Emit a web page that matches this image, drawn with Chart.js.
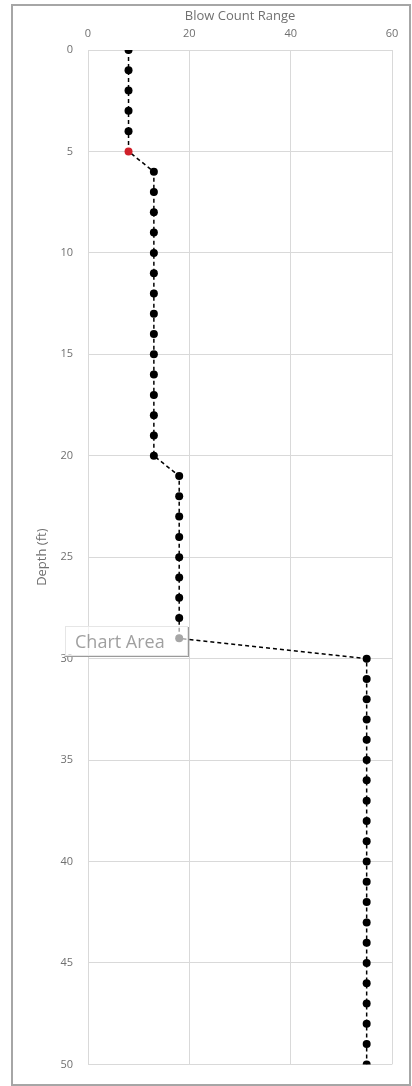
<!DOCTYPE html>
<html>
<head>
<meta charset="utf-8">
<script src="https://cdn.jsdelivr.net/npm/chart.js@4"></script>
<style>
  html, body { margin: 0; padding: 0; background: #fff; }
  #wrap { position: relative; width: 412px; height: 1086px; overflow: hidden; }
  #frame {
    position: absolute; left: 11px; top: 4px; width: 396px; height: 1078px;
    border: 2px solid #a6a6a6; pointer-events: none;
  }
  #chartArea {
    position: absolute; left: 65px; top: 626px; width: 123px; height: 30px;
    background: rgba(255,255,255,0.65);
    border: 1px solid #e6e6e6;
    box-shadow: 1px 1px 0 #9a9a9a;
    font-family: "Open Sans", sans-serif; font-size: 18px; color: #a0a0a0;
    line-height: 28px; padding-left: 9px; box-sizing: border-box;
  }
</style>
</head>
<body>
<div id="wrap">
  <canvas id="BLOWS" width="412" height="1086"></canvas>
  <div id="frame"></div>
  <div id="chartArea">Chart Area</div>
</div>
<script>
// Datos: profundidad (ft) y golpes
const DEPTHS = [0,1,2,3,4,5,6,7,8,9,10,11,12,13,14,15,16,17,18,19,20,
  21,22,23,24,25,26,27,28,29,30,31,32,33,34,35,36,37,38,39,40,
  41,42,43,44,45,46,47,48,49,50];
const BLOWS = [8,8,8,8,8,8,13,13,13,13,13,13,13,13,13,13,13,13,13,13,13,
  18,18,18,18,18,18,18,18,18,55,55,55,55,55,55,55,55,55,55,55,
  55,55,55,55,55,55,55,55,55,55];
const X_TICKS = [0, 20, 40, 60];
const Y_TICKS = [0, 5, 10, 15, 20, 25, 30, 35, 40, 45, 50];
const RED_DEPTH = 5;

const POINTS = DEPTHS.map((d, i) => ({ x: BLOWS[i], y: d }));
const POINT_COLORS = DEPTHS.map(d => d === RED_DEPTH ? '#d0202a' : '#000');

const TEXT = '#707070';
const GRID = '#d9d9d9';

const ctx = document.getElementById('BLOWS');

new Chart(ctx, {
  type: 'scatter',
  data: {
    datasets: [{
      data: POINTS,
      showLine: true,
      borderColor: '#000',
      borderWidth: 1.5,
      borderDash: [4, 3],
      pointRadius: 4,
      pointBorderWidth: 0,
      pointBackgroundColor: POINT_COLORS,
      pointBorderColor: POINT_COLORS
    }]
  },
  options: {
    responsive: false,
    animation: false,
    layout: { padding: { left: 0, top: 0, right: 20, bottom: 20 } },
    plugins: { legend: { display: false }, tooltip: { enabled: false } },
    scales: {
      x: {
        type: 'linear',
        position: 'top',
        min: 0, max: 60,
        afterBuildTicks: s => { s.ticks = X_TICKS.map(v => ({ value: v })); },
        afterFit: s => { s.height = 50; },
        grid: { color: GRID, drawTicks: false },
        border: { display: false },
        ticks: { padding: 10, color: TEXT, font: { family: 'Open Sans', size: 11 } },
        title: {
          display: true, text: 'Blow Count Range', color: TEXT,
          font: { family: 'Open Sans', size: 13 }, padding: { top: 8 }
        }
      },
      y: {
        type: 'linear',
        reverse: true,
        min: 0, max: 50,
        afterBuildTicks: s => { s.ticks = Y_TICKS.map(v => ({ value: v })); },
        afterFit: s => { s.width = 88; },
        grid: { color: GRID, drawTicks: false },
        border: { display: false },
        ticks: { padding: 15, color: TEXT, font: { family: 'Open Sans', size: 11 } },
        title: {
          display: true, text: 'Depth (ft)', color: TEXT,
          font: { family: 'Open Sans', size: 13 }, padding: { top: 34 }
        }
      }
    }
  }
});
</script>
</body>
</html>
